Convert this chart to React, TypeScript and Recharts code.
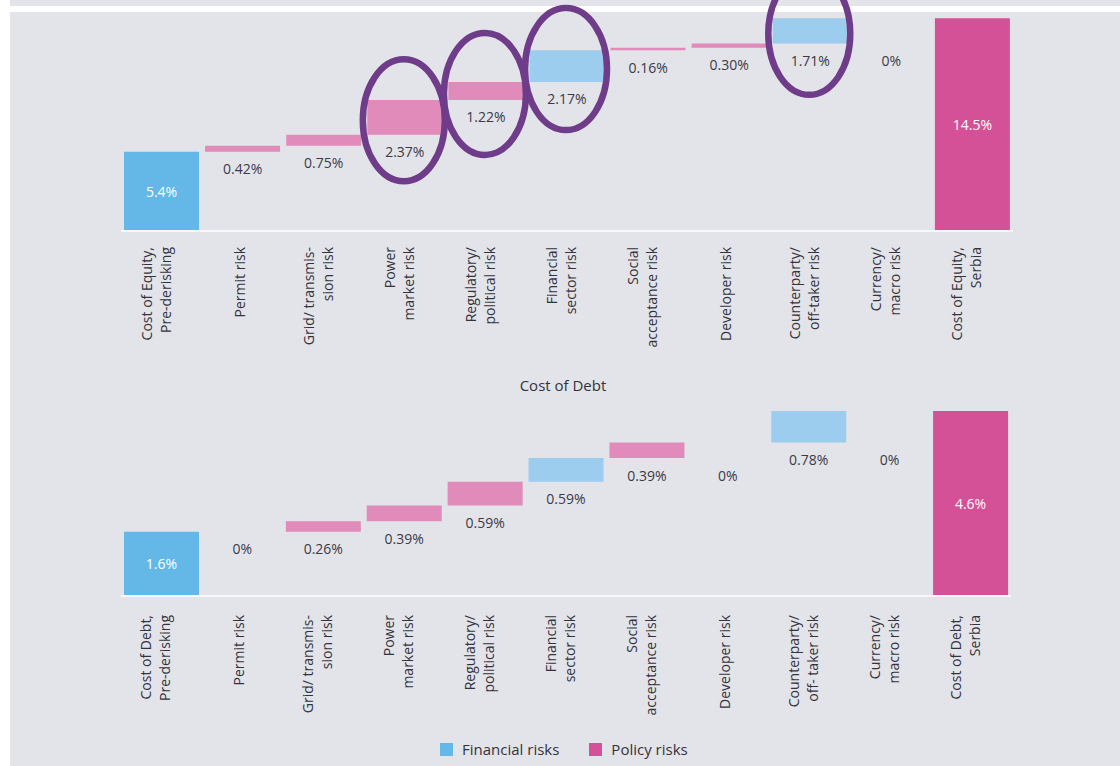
import React from "react";
import { ComposedChart, Bar, Line, XAxis, YAxis, Cell, LabelList } from "recharts";

// ---------- data ----------
const equityCategories: string[][] = [
  ["Cost of Equity,", "Pre-derisking"],
  ["Permit risk"],
  ["Grid/ transmis-", "sion risk"],
  ["Power", "market risk"],
  ["Regulatory/", "political risk"],
  ["Financial", "sector risk"],
  ["Social", "acceptance risk"],
  ["Developer risk"],
  ["Counterparty/", "off-taker risk"],
  ["Currency/", "macro risk"],
  ["Cost of Equity,", "Serbia"],
];
const equityValues = [5.4, 0.42, 0.75, 2.37, 1.22, 2.17, 0.16, 0.3, 1.71, 0, 14.5];
const equityKinds = ["base", "policy", "policy", "policy", "policy", "financial", "policy", "policy", "financial", "financial", "total"];
const equityHighlights = ["Power|market risk", "Regulatory/|political risk", "Financial|sector risk", "Counterparty/|off-taker risk"];

const debtCategories: string[][] = [
  ["Cost of Debt,", "Pre-derisking"],
  ["Permit risk"],
  ["Grid/ transmis-", "sion risk"],
  ["Power", "market risk"],
  ["Regulatory/", "political risk"],
  ["Financial", "sector risk"],
  ["Social", "acceptance risk"],
  ["Developer risk"],
  ["Counterparty/", "off- taker risk"],
  ["Currency/", "macro risk"],
  ["Cost of Debt,", "Serbia"],
];
const debtValues = [1.6, 0, 0.26, 0.39, 0.59, 0.59, 0.39, 0, 0.78, 0, 4.6];
const debtKinds = ["base", "policy", "policy", "policy", "policy", "financial", "policy", "policy", "financial", "financial", "total"];
const debtHighlights: string[] = [];

const legendItems = [
  { label: "Financial risks", kind: "base" },
  { label: "Policy risks", kind: "total" },
];

const debtTitle = "Cost of Debt";

// ---------- styles ----------
const COLORS: Record<string, string> = {
  base: "#64b8e7",
  financial: "#9dcdee",
  policy: "#e08bb9",
  total: "#d45197",
};
const PANEL = "#e3e4e9";
const FONT = "'Open Sans', 'Noto Sans', sans-serif";
const TEXT = "#3a3a48";

type Row = {
  name: string;
  kind: string;
  start: number;
  end: number;
  mid: number;
  insideLevel: number | null;
  insideText: string | null;
  belowLevel: number | null;
  belowText: string | null;
  highlight: boolean;
};

function buildRows(cats: string[][], values: number[], kinds: string[], highlights: string[]): Row[] {
  const rows: Row[] = [];
  let level = 0;
  values.forEach((v, i) => {
    const k = kinds[i];
    const name = cats[i].join("|");
    let start: number;
    let end: number;
    if (k === "base" || k === "total") {
      start = 0;
      end = v;
      level = v;
    } else {
      start = level;
      end = level + v;
      level = end;
    }
    const isStep = !(k === "base" || k === "total");
    let belowLevel: number | null = null;
    if (isStep) {
      belowLevel = start;
      if (v === 0 && i > 0) {
        const prevKind = kinds[i - 1];
        if (prevKind !== "base" && prevKind !== "total") belowLevel = rows[i - 1].start;
      }
    }
    rows.push({
      name,
      kind: k,
      start,
      end,
      mid: (start + end) / 2,
      insideLevel: isStep ? null : v / 2,
      insideText: isStep ? null : `${v.toFixed(1)}%`,
      belowLevel,
      belowText: isStep ? (v === 0 ? "0%" : `${v.toFixed(2)}%`) : null,
      highlight: highlights.includes(name),
    });
  });
  return rows;
}

const equityRows = buildRows(equityCategories, equityValues, equityKinds, equityHighlights);
const debtRows = buildRows(debtCategories, debtValues, debtKinds, debtHighlights);

const makeTick = (gap: number) => (props: any) => {
  const { x, y, payload } = props;
  const lines: string[] = String(payload.value).split("|");
  const offs = lines.length === 1 ? [2] : [-10, 9];
  return (
    <g transform={`translate(${x},${y + gap}) rotate(-90)`}>
      {lines.map((t, i) => (
        <text key={i} x={0} y={offs[i]} textAnchor="end" fontSize={14} fontFamily={FONT} fill="#33333d">
          {t}
        </text>
      ))}
    </g>
  );
};

const insideLabel = (props: any) => {
  const { x, y, value } = props;
  if (value == null || y == null || !isFinite(y)) return null;
  return (
    <text x={x} y={y} textAnchor="middle" dominantBaseline="central" fontSize={14} fontFamily={FONT} fill="#ffffff">
      {value}
    </text>
  );
};

const belowLabel = (props: any) => {
  const { x, y, value } = props;
  if (value == null || y == null || !isFinite(y)) return null;
  return (
    <text x={x} y={y + 17} textAnchor="middle" dominantBaseline="central" fontSize={14} fontFamily={FONT} fill={TEXT}>
      {value}
    </text>
  );
};

const ellipseDot = (props: any) => {
  const { cx, cy, payload, index } = props;
  if (!payload || !payload.highlight || cx == null || cy == null) return <g key={`e${index}`} />;
  return (
    <ellipse key={`e${index}`} cx={cx - 1} cy={cy + 3} rx={41} ry={61} fill="none" stroke="#6f3c8a" strokeWidth={6.5} />
  );
};

function Waterfall({ rows, height, margin, domain, tickGap, axisHeight }: any) {
  return (
    <ComposedChart width={1120} height={height} data={rows} margin={margin} barCategoryGap={3} style={{ overflow: "visible" }}>
      <XAxis
        dataKey="name"
        interval={0}
        height={axisHeight}
        tickLine={false}
        tickSize={0}
        tickMargin={0}
        axisLine={{ stroke: "#f8f8fb", strokeWidth: 2 }}
        tick={makeTick(tickGap)}
      />
      <YAxis hide domain={domain} />
      <Bar dataKey={(d: Row) => [d.start, d.end]} isAnimationActive={false}>
        {rows.map((r: Row, i: number) => (
          <Cell key={i} fill={COLORS[r.kind]} />
        ))}
      </Bar>
      <Line dataKey="insideLevel" stroke="none" dot={false} activeDot={false} isAnimationActive={false}>
        <LabelList dataKey="insideText" content={insideLabel} />
      </Line>
      <Line dataKey="belowLevel" stroke="none" dot={false} activeDot={false} isAnimationActive={false}>
        <LabelList dataKey="belowText" content={belowLabel} />
      </Line>
      <Line dataKey="mid" stroke="none" dot={ellipseDot} activeDot={false} isAnimationActive={false} />
    </ComposedChart>
  );
}

export default function App() {
  return (
    <div style={{ position: "absolute", left: 0, top: 0, width: 1120, height: 766, background: "#ffffff", overflow: "hidden", fontFamily: FONT }}>
      <div style={{ position: "absolute", left: 10, top: 0, width: 1110, height: 6, background: PANEL }} />
      <div style={{ position: "absolute", left: 10, top: 12, width: 1110, height: 754, background: PANEL }} />
      <div style={{ position: "absolute", left: 0, top: 0 }}>
        <Waterfall
          rows={equityRows}
          height={375}
          margin={{ top: 11, right: 107, bottom: 0, left: 121 }}
          domain={[0, 15]}
          tickGap={16}
          axisHeight={144}
        />
      </div>
      <div
        style={{
          position: "absolute",
          left: 463,
          width: 200,
          top: 375,
          height: 20,
          lineHeight: "20px",
          textAlign: "center",
          fontSize: 15,
          color: "#33333d",
        }}
      >
        {debtTitle}
      </div>
      <div style={{ position: "absolute", left: 0, top: 375 }}>
        <Waterfall
          rows={debtRows}
          height={391}
          margin={{ top: 20, right: 109, bottom: 0, left: 121 }}
          domain={[0, 5]}
          tickGap={19}
          axisHeight={170}
        />
      </div>
      <div style={{ position: "absolute", left: 440, top: 739, height: 20, display: "flex", alignItems: "center" }}>
        {legendItems.map((it, i) => (
          <div key={i} style={{ display: "flex", alignItems: "center", marginRight: i === 0 ? 30 : 0 }}>
            <div style={{ width: 13, height: 13, background: COLORS[it.kind], marginRight: 9 }} />
            <span style={{ fontSize: 15, color: "#33333d" }}>{it.label}</span>
          </div>
        ))}
      </div>
    </div>
  );
}
